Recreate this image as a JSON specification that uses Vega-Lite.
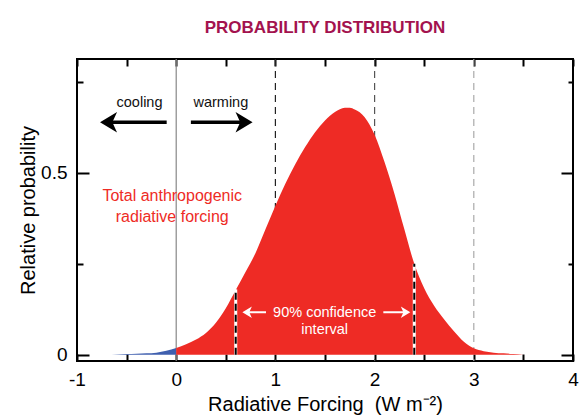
{
  "$schema": "https://vega.github.io/schema/vega-lite/v6.json",
  "width": 496,
  "height": 302,
  "autosize": {"type": "none"},
  "padding": {"left": 77, "top": 59, "right": 6, "bottom": 57},
  "background": "white",
  "config": {
    "font": "Liberation Sans",
    "view": {"stroke": "black", "strokeWidth": 2},
    "axis": {
      "domain": false, "grid": false, "tickColor": "black", "tickWidth": 2,
      "labelFont": "Liberation Sans", "labelFontSize": 19, "labelColor": "black",
      "titleFont": "Liberation Sans", "titleFontSize": 20, "titleFontWeight": "normal", "titleColor": "black"
    }
  },
  "title": {
    "text": "PROBABILITY DISTRIBUTION",
    "font": "Liberation Sans", "fontSize": 17, "fontWeight": "bold", "color": "#a3124e",
    "anchor": "middle", "frame": "group", "offset": 8, "baseline": "alphabetic"
  },
  "resolve": {"axis": {"x": "independent", "y": "independent"}, "scale": {"color": "independent"}},
  "datasets": {
    "curve": [
      {"x": -0.7, "y": 0.0, "part": "cool"},
      {"x": -0.6, "y": 0.001, "part": "cool"},
      {"x": -0.5, "y": 0.002, "part": "cool"},
      {"x": -0.4, "y": 0.003, "part": "cool"},
      {"x": -0.3, "y": 0.004, "part": "cool"},
      {"x": -0.2, "y": 0.006, "part": "cool"},
      {"x": -0.1, "y": 0.011, "part": "cool"},
      {"x": 0.0, "y": 0.019, "part": "cool"},
      {"x": 0.0, "y": 0.019, "part": "warm"},
      {"x": 0.1, "y": 0.029, "part": "warm"},
      {"x": 0.2, "y": 0.042, "part": "warm"},
      {"x": 0.3, "y": 0.06, "part": "warm"},
      {"x": 0.4, "y": 0.088, "part": "warm"},
      {"x": 0.5, "y": 0.128, "part": "warm"},
      {"x": 0.6, "y": 0.178, "part": "warm"},
      {"x": 0.7, "y": 0.228, "part": "warm"},
      {"x": 0.8, "y": 0.28, "part": "warm"},
      {"x": 0.9, "y": 0.345, "part": "warm"},
      {"x": 1.0, "y": 0.41, "part": "warm"},
      {"x": 1.1, "y": 0.47, "part": "warm"},
      {"x": 1.2, "y": 0.524, "part": "warm"},
      {"x": 1.3, "y": 0.571, "part": "warm"},
      {"x": 1.4, "y": 0.612, "part": "warm"},
      {"x": 1.5, "y": 0.644, "part": "warm"},
      {"x": 1.6, "y": 0.667, "part": "warm"},
      {"x": 1.7, "y": 0.679, "part": "warm"},
      {"x": 1.75, "y": 0.679, "part": "warm"},
      {"x": 1.8, "y": 0.674, "part": "warm"},
      {"x": 1.9, "y": 0.653, "part": "warm"},
      {"x": 2.0, "y": 0.605, "part": "warm"},
      {"x": 2.1, "y": 0.53, "part": "warm"},
      {"x": 2.2, "y": 0.443, "part": "warm"},
      {"x": 2.3, "y": 0.345, "part": "warm"},
      {"x": 2.4, "y": 0.25, "part": "warm"},
      {"x": 2.5, "y": 0.183, "part": "warm"},
      {"x": 2.6, "y": 0.135, "part": "warm"},
      {"x": 2.7, "y": 0.098, "part": "warm"},
      {"x": 2.8, "y": 0.065, "part": "warm"},
      {"x": 2.9, "y": 0.036, "part": "warm"},
      {"x": 3.0, "y": 0.018, "part": "warm"},
      {"x": 3.1, "y": 0.01, "part": "warm"},
      {"x": 3.2, "y": 0.006, "part": "warm"},
      {"x": 3.3, "y": 0.004, "part": "warm"},
      {"x": 3.4, "y": 0.002, "part": "warm"},
      {"x": 3.5, "y": 0.0, "part": "warm"}
    ],
    "refs": [
      {"x": 0, "kind": "zero"},
      {"x": 1, "kind": "one"},
      {"x": 2, "kind": "two"},
      {"x": 3, "kind": "three"}
    ],
    "ci": [
      {"x": 0.6, "y": 0, "top": 0.18},
      {"x": 2.4, "y": 0, "top": 0.25}
    ],
    "shafts": [
      {"x": -0.096, "x2": -0.68, "y": 0.639, "kind": "black"},
      {"x": 0.148, "x2": 0.684, "y": 0.639, "kind": "black"},
      {"x": 0.905, "x2": 0.715, "y": 0.117, "kind": "white"},
      {"x": 2.088, "x2": 2.312, "y": 0.117, "kind": "white"}
    ],
    "heads": [
      {"x": -0.682, "y": 0.639, "dir": "left", "kind": "black"},
      {"x": 0.684, "y": 0.639, "dir": "right", "kind": "black"},
      {"x": 0.715, "y": 0.117, "dir": "left", "kind": "white"},
      {"x": 2.312, "y": 0.117, "dir": "right", "kind": "white"}
    ],
    "labels": [
      {"x": -0.37, "y": 0.681, "label": "cooling", "kind": "black"},
      {"x": 0.45, "y": 0.681, "label": "warming", "kind": "black"},
      {"x": -0.04, "y": 0.423, "label": "Total anthropogenic\nradiative forcing", "kind": "red"},
      {"x": 1.497, "y": 0.105, "label": "90% confidence\ninterval", "kind": "white"}
    ]
  },
  "layer": [
    {
      "data": {"name": "refs"},
      "mark": {"type": "rule", "strokeWidth": 1.2},
      "encoding": {
        "x": {"field": "x", "type": "quantitative", "scale": {"domain": [-1, 4], "nice": false, "zero": false},
          "axis": {"orient": "top", "values": [-1, -0.5, 0, 0.5, 1, 1.5, 2, 2.5, 3, 3.5, 4], "labels": false, "tickSize": -7, "title": null}},
        "color": {"field": "kind", "type": "nominal", "scale": {"domain": ["zero", "one", "two", "three"], "range": ["#888888", "#222222", "#555555", "#aaaaaa"]}, "legend": null},
        "strokeDash": {"field": "kind", "type": "nominal", "scale": {"domain": ["zero", "one", "two", "three"], "range": [[1, 0], [7, 5], [7, 5], [7, 5]]}, "legend": null}
      }
    },
    {
      "data": {"name": "curve"},
      "mark": {"type": "area", "interpolate": "monotone", "opacity": 1},
      "encoding": {
        "x": {"field": "x", "type": "quantitative", "scale": {"domain": [-1, 4], "nice": false, "zero": false},
          "axis": {"orient": "bottom", "values": [-1, -0.5, 0, 0.5, 1, 1.5, 2, 2.5, 3, 3.5, 4], "tickSize": -7, "labelPadding": 16, "labelFlush": false, "labelOverlap": false,
            "labelExpr": "datum.value % 1 === 0 ? toString(datum.value) : ''", "title": "Radiative Forcing\u00a0 (W m\u207b\u00b2)", "titlePadding": 5}},
        "y": {"field": "y", "type": "quantitative", "stack": null, "scale": {"domain": [-0.017, 0.813], "nice": false, "zero": false},
          "axis": {"orient": "left", "values": [0, 0.5], "tickSize": -12,
            "labelPadding": 22, "labelOverlap": false, "labelFlush": false,
            "labelExpr": "datum.value === 0 ? '0' : '0.5'",
            "title": "Relative probability", "titlePadding": 2}},
        "color": {"field": "part", "type": "nominal", "scale": {"domain": ["cool", "warm"], "range": ["#3f5fae", "#ee2b25"]}, "legend": null}
      }
    },
    {
      "data": {"name": "ci"},
      "mark": {"type": "rule", "color": "white", "strokeWidth": 3},
      "encoding": {
        "x": {"field": "x", "type": "quantitative", "scale": {"domain": [-1, 4], "nice": false, "zero": false}, "axis": null},
        "y": {"field": "y", "type": "quantitative", "scale": {"domain": [-0.017, 0.813], "nice": false, "zero": false},
          "axis": {"orient": "right", "values": [0, 0.5], "labels": false, "title": null, "tickSize": -12}},
        "y2": {"field": "top"}
      }
    },
    {
      "data": {"name": "ci"},
      "mark": {"type": "rule", "color": "black", "strokeWidth": 2, "strokeDash": [7, 4]},
      "encoding": {
        "x": {"field": "x", "type": "quantitative", "scale": {"domain": [-1, 4], "nice": false, "zero": false}, "axis": null},
        "y": {"field": "y", "type": "quantitative", "scale": {"domain": [-0.017, 0.813], "nice": false, "zero": false},
          "axis": {"orient": "left", "values": [0.25, 0.75], "labels": false, "title": null, "tickSize": -6}},
        "y2": {"field": "top"}
      }
    },
    {
      "data": {"name": "shafts"},
      "transform": [{"filter": "datum.kind === 'black'"}],
      "mark": {"type": "rule", "color": "black", "strokeWidth": 3.5},
      "encoding": {
        "x": {"field": "x", "type": "quantitative", "scale": {"domain": [-1, 4], "nice": false, "zero": false}, "axis": null},
        "x2": {"field": "x2"},
        "y": {"field": "y", "type": "quantitative", "scale": {"domain": [-0.017, 0.813], "nice": false, "zero": false},
          "axis": {"orient": "right", "values": [0.25, 0.75], "labels": false, "title": null, "tickSize": -5}}
      }
    },
    {
      "data": {"name": "shafts"},
      "transform": [{"filter": "datum.kind === 'white'"}],
      "mark": {"type": "rule", "color": "white", "strokeWidth": 2},
      "encoding": {
        "x": {"field": "x", "type": "quantitative", "scale": {"domain": [-1, 4], "nice": false, "zero": false}, "axis": null},
        "x2": {"field": "x2"},
        "y": {"field": "y", "type": "quantitative", "scale": {"domain": [-0.017, 0.813], "nice": false, "zero": false}, "axis": null}
      }
    },
    {
      "data": {"name": "heads"},
      "transform": [{"filter": "datum.kind === 'black'"}],
      "mark": {"type": "point", "filled": true, "color": "black", "opacity": 1, "size": 290},
      "encoding": {
        "x": {"field": "x", "type": "quantitative", "scale": {"domain": [-1, 4], "nice": false, "zero": false}, "axis": null},
        "y": {"field": "y", "type": "quantitative", "scale": {"domain": [-0.017, 0.813], "nice": false, "zero": false}, "axis": null},
        "shape": {"field": "dir", "type": "nominal", "scale": {"domain": ["left", "right"], "range": ["M-1,0L1,-1.2L0.45,0L1,1.2Z", "M1,0L-1,-1.2L-0.45,0L-1,1.2Z"]}, "legend": null}
      }
    },
    {
      "data": {"name": "heads"},
      "transform": [{"filter": "datum.kind === 'white'"}],
      "mark": {"type": "point", "filled": true, "color": "white", "opacity": 1, "size": 90},
      "encoding": {
        "x": {"field": "x", "type": "quantitative", "scale": {"domain": [-1, 4], "nice": false, "zero": false}, "axis": null},
        "y": {"field": "y", "type": "quantitative", "scale": {"domain": [-0.017, 0.813], "nice": false, "zero": false}, "axis": null},
        "shape": {"field": "dir", "type": "nominal", "scale": {"domain": ["left", "right"], "range": ["M-1,0L1,-1.2L0.45,0L1,1.2Z", "M1,0L-1,-1.2L-0.45,0L-1,1.2Z"]}, "legend": null}
      }
    },
    {
      "data": {"name": "labels"},
      "transform": [{"filter": "datum.kind === 'black'"}],
      "mark": {"type": "text", "color": "#111111", "fontSize": 14.5, "align": "center", "baseline": "alphabetic", "font": "Liberation Sans"},
      "encoding": {
        "x": {"field": "x", "type": "quantitative", "scale": {"domain": [-1, 4], "nice": false, "zero": false}, "axis": null},
        "y": {"field": "y", "type": "quantitative", "scale": {"domain": [-0.017, 0.813], "nice": false, "zero": false}, "axis": null},
        "text": {"field": "label"}
      }
    },
    {
      "data": {"name": "labels"},
      "transform": [{"filter": "datum.kind === 'red'"}],
      "mark": {"type": "text", "color": "#ee2b25", "fontSize": 16, "lineHeight": 21, "lineBreak": "\n", "align": "center", "baseline": "alphabetic", "font": "Liberation Sans"},
      "encoding": {
        "x": {"field": "x", "type": "quantitative", "scale": {"domain": [-1, 4], "nice": false, "zero": false}, "axis": null},
        "y": {"field": "y", "type": "quantitative", "scale": {"domain": [-0.017, 0.813], "nice": false, "zero": false}, "axis": null},
        "text": {"field": "label"}
      }
    },
    {
      "data": {"name": "labels"},
      "transform": [{"filter": "datum.kind === 'white'"}],
      "mark": {"type": "text", "color": "white", "fontSize": 14.5, "lineHeight": 17, "lineBreak": "\n", "align": "center", "baseline": "alphabetic", "font": "Liberation Sans"},
      "encoding": {
        "x": {"field": "x", "type": "quantitative", "scale": {"domain": [-1, 4], "nice": false, "zero": false}, "axis": null},
        "y": {"field": "y", "type": "quantitative", "scale": {"domain": [-0.017, 0.813], "nice": false, "zero": false}, "axis": null},
        "text": {"field": "label"}
      }
    }
  ]
}
